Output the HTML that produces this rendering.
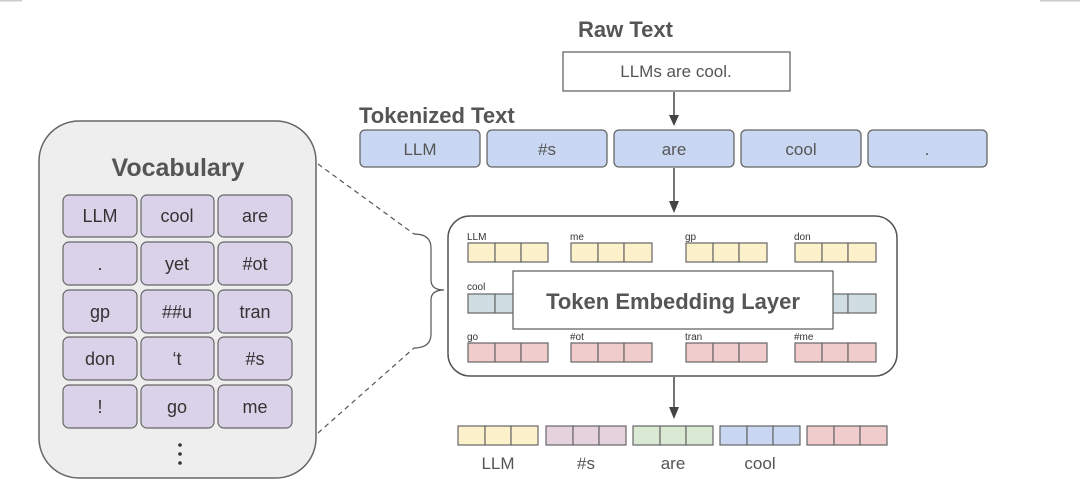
<!DOCTYPE html>
<html><head><meta charset="utf-8"><style>body{margin:0;background:#fff}svg{display:block}text{font-family:"Liberation Sans",sans-serif;fill:#555}</style></head><body>
<svg width="1080" height="492" viewBox="0 0 1080 492">
<rect x="0" y="0" width="22" height="1.5" fill="#ccc"/><rect x="1040" y="0" width="40" height="1.5" fill="#ccc"/>
<text x="578" y="37" font-size="22" font-weight="bold">Raw Text</text>
<rect x="563" y="52" width="227" height="39" fill="#fff" stroke="#666" stroke-width="1.3"/>
<text x="676" y="77" font-size="17" text-anchor="middle">LLMs are cool.</text>
<g stroke="#444" stroke-width="1.5"><line x1="674" y1="92" x2="674" y2="116"/><line x1="674" y1="168" x2="674" y2="202"/><line x1="674" y1="377" x2="674" y2="408"/></g>
<g fill="#444"><path d="M669,115 L679,115 L674,126 z"/><path d="M669,201 L679,201 L674,213 z"/><path d="M669,407 L679,407 L674,419 z"/></g>
<text x="359" y="123" font-size="22" font-weight="bold">Tokenized Text</text>
<g stroke="#666" stroke-width="1.3" fill="#c9d7f2">
<rect x="360" y="130" width="120" height="37" rx="5"/><rect x="487" y="130" width="120" height="37" rx="5"/><rect x="614" y="130" width="120" height="37" rx="5"/><rect x="741" y="130" width="120" height="37" rx="5"/><rect x="868" y="130" width="119" height="37" rx="5"/></g>
<g font-size="17" text-anchor="middle"><text x="420" y="155">LLM</text><text x="547" y="155">#s</text><text x="674" y="155">are</text><text x="801" y="155">cool</text><text x="927" y="155">.</text></g>
<rect x="448" y="216" width="449" height="160" rx="22" fill="#fff" stroke="#555" stroke-width="1.5"/>
<g stroke="#666" stroke-width="1.2">
<g fill="#fdf1cc"><rect x="468" y="243" width="27" height="19"/><rect x="495" y="243" width="26" height="19"/><rect x="521" y="243" width="27" height="19"/>
<rect x="571" y="243" width="27" height="19"/><rect x="598" y="243" width="26" height="19"/><rect x="624" y="243" width="28" height="19"/>
<rect x="686" y="243" width="27" height="19"/><rect x="713" y="243" width="26" height="19"/><rect x="739" y="243" width="28" height="19"/>
<rect x="795" y="243" width="27" height="19"/><rect x="822" y="243" width="26" height="19"/><rect x="848" y="243" width="28" height="19"/></g>
<g fill="#d0dde2"><rect x="468" y="294" width="27" height="19"/><rect x="495" y="294" width="26" height="19"/><rect x="822" y="294" width="26" height="19"/><rect x="848" y="294" width="28" height="19"/></g>
<g fill="#f0cccc"><rect x="468" y="343" width="27" height="19"/><rect x="495" y="343" width="26" height="19"/><rect x="521" y="343" width="27" height="19"/>
<rect x="571" y="343" width="27" height="19"/><rect x="598" y="343" width="26" height="19"/><rect x="624" y="343" width="28" height="19"/>
<rect x="686" y="343" width="27" height="19"/><rect x="713" y="343" width="26" height="19"/><rect x="739" y="343" width="28" height="19"/>
<rect x="795" y="343" width="27" height="19"/><rect x="822" y="343" width="26" height="19"/><rect x="848" y="343" width="28" height="19"/></g>
</g>
<g font-size="10"><text x="467" y="240" style="fill:#333">LLM</text><text x="570" y="240" style="fill:#333">me</text><text x="685" y="240" style="fill:#333">gp</text><text x="794" y="240" style="fill:#333">don</text>
<text x="467" y="290" style="fill:#333">cool</text>
<text x="467" y="340" style="fill:#333">go</text><text x="570" y="340" style="fill:#333">#ot</text><text x="685" y="340" style="fill:#333">tran</text><text x="794" y="340" style="fill:#333">#me</text></g>
<rect x="513" y="271" width="320" height="58" fill="#fff" stroke="#666" stroke-width="1.3"/>
<text x="673" y="309" font-size="22" font-weight="bold" text-anchor="middle">Token Embedding Layer</text>
<g stroke="#666" stroke-width="1.2">
<g fill="#fdf1cc"><rect x="458" y="426" width="27" height="19"/><rect x="485" y="426" width="26" height="19"/><rect x="511" y="426" width="27" height="19"/></g>
<g fill="#e6d2dc"><rect x="546" y="426" width="27" height="19"/><rect x="573" y="426" width="26" height="19"/><rect x="599" y="426" width="27" height="19"/></g>
<g fill="#d9e9d3"><rect x="633" y="426" width="27" height="19"/><rect x="660" y="426" width="26" height="19"/><rect x="686" y="426" width="27" height="19"/></g>
<g fill="#c9d7f3"><rect x="720" y="426" width="27" height="19"/><rect x="747" y="426" width="26" height="19"/><rect x="773" y="426" width="27" height="19"/></g>
<g fill="#f0cccc"><rect x="807" y="426" width="27" height="19"/><rect x="834" y="426" width="26" height="19"/><rect x="860" y="426" width="27" height="19"/></g>
</g>
<g font-size="17" text-anchor="middle"><text x="498" y="469">LLM</text><text x="586" y="469">#s</text><text x="673" y="469">are</text><text x="760" y="469">cool</text></g>
<rect x="39" y="121" width="277" height="357" rx="40" fill="#eee" stroke="#666" stroke-width="1.5"/>
<text x="178" y="176" font-size="25" font-weight="bold" text-anchor="middle">Vocabulary</text>
<g fill="#d9d2e9" stroke="#666" stroke-width="1.2">
<rect x="63" y="195" width="74" height="42" rx="6"/><rect x="141" y="195" width="73" height="42" rx="6"/><rect x="218" y="195" width="74" height="42" rx="6"/>
<rect x="63" y="242" width="74" height="43" rx="6"/><rect x="141" y="242" width="73" height="43" rx="6"/><rect x="218" y="242" width="74" height="43" rx="6"/>
<rect x="63" y="290" width="74" height="43" rx="6"/><rect x="141" y="290" width="73" height="43" rx="6"/><rect x="218" y="290" width="74" height="43" rx="6"/>
<rect x="63" y="337" width="74" height="43" rx="6"/><rect x="141" y="337" width="73" height="43" rx="6"/><rect x="218" y="337" width="74" height="43" rx="6"/>
<rect x="63" y="385" width="74" height="43" rx="6"/><rect x="141" y="385" width="73" height="43" rx="6"/><rect x="218" y="385" width="74" height="43" rx="6"/></g>
<g font-size="18" text-anchor="middle">
<text x="100" y="222" style="fill:#333">LLM</text><text x="177" y="222" style="fill:#333">cool</text><text x="255" y="222" style="fill:#333">are</text>
<text x="100" y="270" style="fill:#333">.</text><text x="177" y="270" style="fill:#333">yet</text><text x="255" y="270" style="fill:#333">#ot</text>
<text x="100" y="318" style="fill:#333">gp</text><text x="177" y="318" style="fill:#333">##u</text><text x="255" y="318" style="fill:#333">tran</text>
<text x="100" y="365" style="fill:#333">don</text><text x="177" y="365" style="fill:#333">‘t</text><text x="255" y="365" style="fill:#333">#s</text>
<text x="100" y="413" style="fill:#333">!</text><text x="177" y="413" style="fill:#333">go</text><text x="255" y="413" style="fill:#333">me</text></g>
<g fill="#333"><circle cx="180" cy="445" r="1.8"/><circle cx="180" cy="454" r="1.8"/><circle cx="180" cy="463" r="1.8"/></g>
<g stroke="#555" stroke-width="1.2" fill="none">
<line x1="318" y1="164" x2="414" y2="234" stroke-dasharray="5,4"/>
<line x1="318" y1="433" x2="414" y2="348" stroke-dasharray="5,4"/>
<path d="M414,234 Q431,234 431,248 L431,280 Q431,290 444,290 Q431,290 431,300 L431,334 Q431,348 414,348"/>
</g>
</svg>
</body></html>
